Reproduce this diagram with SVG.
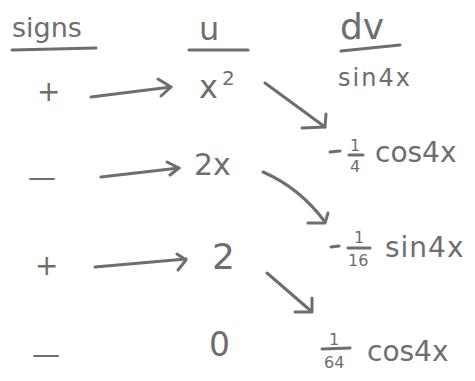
<svg xmlns="http://www.w3.org/2000/svg" width="475" height="381" viewBox="0 0 475 381">
<style>
.t{font-family:"DejaVu Sans","Liberation Sans",sans-serif;fill:#6e6e6e}
.l{stroke:#6e6e6e;stroke-width:3;fill:none;stroke-linecap:round;stroke-linejoin:round}
</style>
<rect width="475" height="381" fill="#ffffff"/>
<g id="header-signs">
<text class="t" x="12" y="37" font-size="27">signs</text>
<path class="l" d="M12,50 L96,48"/>
</g>
<g id="header-u">
<text class="t" x="199" y="40" font-size="32">u</text>
<path class="l" d="M189,50 L248,50"/>
</g>
<g id="header-dv">
<text class="t" x="340" y="39" font-size="36">dv</text>
<path class="l" d="M341,51 L400,45"/>
</g>
<g id="dv0">
<text class="t" x="338" y="86" font-size="24" letter-spacing="2">sin4x</text>
</g>
<g id="sign0"><text class="t" x="37" y="101" font-size="28">+</text></g>
<g id="sign1"><text class="t" x="28" y="187" font-size="28">—</text></g>
<g id="sign2"><text class="t" x="35" y="275" font-size="28">+</text></g>
<g id="sign3"><text class="t" x="32" y="364" font-size="28">—</text></g>
<g id="u0">
<text class="t" x="199" y="98" font-size="32">x</text>
<text class="t" x="222" y="85" font-size="20">2</text>
</g>
<g id="u1"><text class="t" x="194" y="175" font-size="30">2x</text></g>
<g id="u2"><text class="t" x="212" y="269" font-size="36">2</text></g>
<g id="u3"><text class="t" x="209" y="356" font-size="33">0</text></g>
<g id="dv1">
<path class="l" d="M330,152 L340,151"/>
<text class="t" x="350" y="151" font-size="16">1</text>
<path class="l" d="M349,155 L363,155"/>
<text class="t" x="350" y="172" font-size="16">4</text>
<text class="t" x="375" y="162" font-size="28">cos4x</text>
</g>
<g id="dv2">
<path class="l" d="M331,247 L339,246"/>
<text class="t" x="354" y="243" font-size="16">1</text>
<path class="l" d="M348,248 L370,248"/>
<text class="t" x="348" y="266" font-size="16">16</text>
<text class="t" x="385" y="257" font-size="28" letter-spacing="1">sin4x</text>
</g>
<g id="dv3">
<text class="t" x="329" y="345" font-size="16">1</text>
<path class="l" d="M322,349 L350,348"/>
<text class="t" x="324" y="368" font-size="16">64</text>
<text class="t" x="367" y="361" font-size="28">cos4x</text>
</g>
<g id="connectors">
<path class="l" d="M91,97 L171,87"/>
<path class="l" d="M158,79 L171,87 L161,96"/>
<path class="l" d="M101,177 L179,168"/>
<path class="l" d="M167,162 L179,168 L170,175"/>
<path class="l" d="M95,267 L186,259"/>
<path class="l" d="M177,254 L186,260 L178,270"/>
<path class="l" d="M265,83 L325,127"/>
<path class="l" d="M302,128 L325,127 L326,114"/>
<path class="l" d="M263,172 Q300,188 325,222"/>
<path class="l" d="M308,223 L325,223 L328,213"/>
<path class="l" d="M267,273 L311,311"/>
<path class="l" d="M295,312 L312,312 L312,298"/>
</g>
</svg>
